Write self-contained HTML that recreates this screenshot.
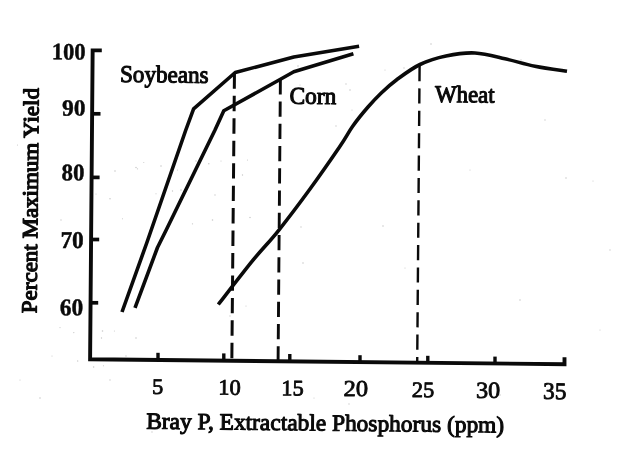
<!DOCTYPE html>
<html>
<head>
<meta charset="utf-8">
<title>Percent Maximum Yield vs Bray P</title>
<style>
  html, body { margin: 0; padding: 0; background: #ffffff; }
  body { width: 640px; height: 454px; overflow: hidden; }
  svg { display: block; filter: grayscale(100%); }
  text { font-family: "Liberation Serif", "DejaVu Serif", serif; fill: #0a0a0a; }
  .b { font-weight: bold; }
  .yl { stroke: #0a0a0a; stroke-width: 0.45px; stroke-linejoin: round; }
  .x { stroke: #0a0a0a; stroke-width: 0.85px; stroke-linejoin: round; }
  .r { stroke: #0a0a0a; stroke-width: 1.05px; stroke-linejoin: round; }
</style>
</head>
<body>
<svg width="640" height="454" viewBox="0 0 640 454">
  <rect x="0" y="0" width="640" height="454" fill="#ffffff"/>

  <!-- scan specks -->
  <g fill="#9a9a9a" opacity="0.55">
    <circle cx="143.8" cy="162.5" r="0.55"/>
    <circle cx="137.5" cy="168.8" r="0.65"/>
    <circle cx="161.0" cy="166.0" r="0.75"/>
    <circle cx="177.5" cy="170.0" r="0.55"/>
    <circle cx="196.0" cy="161.0" r="0.65"/>
    <circle cx="208.8" cy="163.8" r="0.75"/>
    <circle cx="221.0" cy="161.0" r="0.55"/>
    <circle cx="172.5" cy="191.0" r="0.65"/>
    <circle cx="181.0" cy="190.0" r="0.75"/>
    <circle cx="156.0" cy="193.8" r="0.55"/>
    <circle cx="215.0" cy="195.0" r="0.65"/>
    <circle cx="110.0" cy="198.8" r="0.75"/>
    <circle cx="122.5" cy="218.8" r="0.55"/>
    <circle cx="192.5" cy="223.8" r="0.65"/>
    <circle cx="212.5" cy="220.0" r="0.75"/>
    <circle cx="247.5" cy="160.0" r="0.55"/>
    <circle cx="242.5" cy="175.0" r="0.65"/>
    <circle cx="250.0" cy="217.5" r="0.75"/>
    <circle cx="17.5" cy="145.0" r="0.55"/>
    <circle cx="37.5" cy="155.0" r="0.65"/>
    <circle cx="115.0" cy="171.0" r="0.75"/>
    <circle cx="96.0" cy="194.0" r="0.55"/>
    <circle cx="61.0" cy="220.0" r="0.65"/>
    <circle cx="136.0" cy="167.5" r="0.75"/>
    <circle cx="60.0" cy="327.6" r="0.55"/>
    <circle cx="73.8" cy="332.6" r="0.65"/>
    <circle cx="102.5" cy="331.0" r="0.75"/>
    <circle cx="114.4" cy="331.0" r="0.55"/>
    <circle cx="101.5" cy="338.0" r="0.65"/>
    <circle cx="136.0" cy="338.0" r="0.75"/>
    <circle cx="52.0" cy="356.0" r="0.55"/>
    <circle cx="77.7" cy="361.0" r="0.65"/>
    <circle cx="93.6" cy="367.0" r="0.75"/>
    <circle cx="103.5" cy="365.7" r="0.55"/>
    <circle cx="126.0" cy="356.0" r="0.65"/>
    <circle cx="566.0" cy="178.0" r="0.75"/>
    <circle cx="593.0" cy="181.0" r="0.55"/>
    <circle cx="521.0" cy="60.0" r="0.65"/>
    <circle cx="431.0" cy="44.0" r="0.75"/>
    <circle cx="385.0" cy="70.0" r="0.55"/>
    <circle cx="404.0" cy="68.0" r="0.65"/>
    <circle cx="298.0" cy="66.0" r="0.75"/>
    <circle cx="300.0" cy="85.0" r="0.55"/>
    <circle cx="346.0" cy="84.0" r="0.65"/>
    <circle cx="350.0" cy="90.0" r="0.75"/>
    <circle cx="352.0" cy="110.0" r="0.55"/>
    <circle cx="336.0" cy="126.0" r="0.65"/>
    <circle cx="383.0" cy="226.0" r="0.75"/>
    <circle cx="405.0" cy="268.0" r="0.55"/>
    <circle cx="301.0" cy="227.0" r="0.65"/>
    <circle cx="303.0" cy="263.0" r="0.75"/>
    <circle cx="246.0" cy="306.0" r="0.55"/>
    <circle cx="230.0" cy="316.0" r="0.65"/>
    <circle cx="298.0" cy="394.0" r="0.75"/>
    <circle cx="314.0" cy="398.0" r="0.55"/>
    <circle cx="349.0" cy="404.0" r="0.65"/>
    <circle cx="300.0" cy="417.0" r="0.75"/>
    <circle cx="363.0" cy="430.0" r="0.55"/>
    <circle cx="152.0" cy="432.0" r="0.65"/>
    <circle cx="40.0" cy="398.0" r="0.75"/>
    <circle cx="20.0" cy="380.0" r="0.55"/>
    <circle cx="110.0" cy="380.0" r="0.65"/>
    <circle cx="500.0" cy="395.0" r="0.75"/>
    <circle cx="600.0" cy="330.0" r="0.55"/>
    <circle cx="610.0" cy="250.0" r="0.65"/>
    <circle cx="520.0" cy="300.0" r="0.75"/>
    <circle cx="470.0" cy="170.0" r="0.55"/>
    <circle cx="545.0" cy="120.0" r="0.65"/>
  </g>

  <!-- axes -->
  <g stroke="#0a0a0a" stroke-width="3.2" fill="none" stroke-linecap="butt" stroke-linejoin="miter">
    <polyline points="101.8,50.4 92.65,50.4 90.1,359.25 564.5,364.2 564.5,357.3" stroke-width="3.9"/>
    <!-- y ticks -->
    <line x1="92.6" y1="113.8" x2="100.5" y2="113.8" stroke-width="3.7"/>
    <line x1="92.2" y1="177.4" x2="99.6" y2="177.4" stroke-width="3.7"/>
    <line x1="91.6" y1="239.5" x2="99.2" y2="239.5" stroke-width="3.7"/>
    <line x1="91" y1="302.8" x2="98.2" y2="302.8" stroke-width="3.7"/>
    <!-- x ticks -->
    <line x1="158" y1="352.8" x2="158" y2="360.2" stroke-width="3.4"/>
    <line x1="223.8" y1="353.4" x2="223.8" y2="360.9" stroke-width="3.4"/>
    <line x1="289.8" y1="354" x2="289.8" y2="361.6" stroke-width="3.4"/>
    <line x1="360" y1="355.2" x2="360" y2="362.3" stroke-width="3.4"/>
    <line x1="427.8" y1="355.8" x2="427.8" y2="363" stroke-width="3.4"/>
    <line x1="495" y1="356.6" x2="495" y2="363.7" stroke-width="3.4"/>
  </g>

  <!-- curves -->
  <g stroke="#0a0a0a" stroke-width="3.6" fill="none" stroke-linecap="butt" stroke-linejoin="round">
    <!-- Soybeans -->
    <polyline points="122,312 146.9,242.5 185.8,130 193.6,108.8 235.2,72.5 293.8,57 359.1,46.25"/>
    <!-- Corn -->
    <polyline points="135,307.8 157.5,247.5 166.2,230 215,130 223.8,110.8 280,79.5 293.8,71.8 353.4,53.7"/>
    <!-- Wheat -->
    <path d="M218.3,304.5 C224.1,297.1 243.0,272.5 253.0,260.2 C263.0,247.9 268.8,242.7 278.3,230.8 C287.8,218.9 299.8,203.0 310.0,189.0 C320.2,175.0 332.4,157.4 339.5,147.0 C346.6,136.6 347.8,133.2 352.5,126.5 C357.2,119.8 363.2,112.5 368.0,107.0 C372.8,101.5 376.2,97.8 381.0,93.2 C385.8,88.6 390.5,84.3 397.0,79.5 C403.5,74.7 411.8,68.4 420.0,64.5 C428.2,60.6 436.8,57.9 446.0,56.0 C455.2,54.1 465.2,52.5 475.0,53.0 C484.8,53.5 495.0,56.5 505.0,58.8 C515.0,61.0 524.7,64.2 535.0,66.2 C545.3,68.3 561.7,70.4 567.0,71.2"/>
  </g>

  <!-- dashed verticals -->
  <g stroke="#0a0a0a" fill="none">
    <line x1="234.45" y1="73.4" x2="231.85" y2="358.5" stroke-width="3" stroke-dasharray="15.4 7.05"/>
    <line x1="280.4" y1="79.3" x2="278.1" y2="360" stroke-width="2.9" stroke-dasharray="15.3 6.94"/>
    <line x1="419.6" y1="66" x2="417.2" y2="363" stroke-width="2.4" stroke-dasharray="15.2 7.18"/>
  </g>

  <!-- y labels -->
  <g class="b yl" font-size="22.6" text-anchor="end">
    <text x="0" y="0" transform="translate(85.6 59.7) rotate(0.55) scale(1 1.045)">100</text>
    <text x="0" y="0" font-size="23.4" transform="translate(85.5 115.7) rotate(0.55) scale(1 0.985)">90</text>
    <text x="0" y="0" font-size="22.8" transform="translate(84.35 180.35) rotate(0.55) scale(1 1.04)">80</text>
    <text x="0" y="0" font-size="23.2" transform="translate(83.6 248.2) rotate(0.55) scale(1 1.045)">70</text>
    <text x="0" y="0" font-size="23.3" transform="translate(83.05 315.4) rotate(0.55) scale(1 1.03)">60</text>
  </g>

  <!-- x labels -->
  <g class="x" font-size="22.4" text-anchor="middle">
    <text x="0" y="0" transform="translate(157.5 393.9) rotate(0.55) scale(1 0.985)">5</text>
    <text x="0" y="0" transform="translate(229.5 394.7) rotate(0.55) scale(1 0.985)">10</text>
    <text x="0" y="0" transform="translate(292.5 395.3) rotate(0.55) scale(1 0.985)">15</text>
    <text x="0" y="0" font-size="24.6" transform="translate(355.8 396) rotate(0.55) scale(1 0.93)">20</text>
    <text x="0" y="0" transform="translate(423 397.1) rotate(0.55) scale(1 0.985)">25</text>
    <text x="0" y="0" font-size="24.2" transform="translate(488 397.8) rotate(0.55) scale(1 0.95)">30</text>
    <text x="0" y="0" font-size="23.3" transform="translate(554.65 398.9) rotate(0.55) scale(1 1.015)">35</text>
  </g>

  <!-- series labels -->
  <g font-size="23.1" class="r">
    <text x="0" y="0" transform="translate(120 82) rotate(0.55) scale(1 1.045)">Soybeans</text>
    <text x="0" y="0" font-size="23.4" transform="translate(289.5 103.7) rotate(0.55) scale(1 1.03)">Corn</text>
    <text x="0" y="0" font-size="22.9" transform="translate(434.9 102) rotate(0.55) scale(1 1.045)">Wheat</text>
  </g>

  <!-- axis titles -->
  <text class="r" font-size="23.4" x="0" y="0" transform="translate(146.2 428.65) rotate(0.62) scale(1 0.995)">Bray P, Extractable Phosphorus (ppm)</text>
  <text class="r" style="stroke-width:1.25px" font-size="21.8" x="0" y="0" transform="translate(36.5 313.2) rotate(-89.45) scale(1.055 1)">Percent Maximum Yield</text>
</svg>
</body>
</html>
